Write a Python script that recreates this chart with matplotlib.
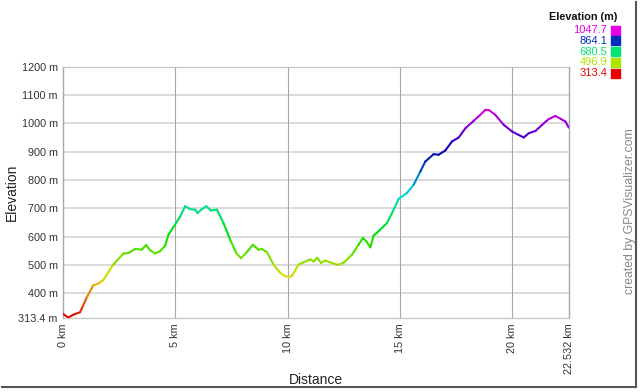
import numpy as np
import matplotlib
matplotlib.use("Agg")
import matplotlib.pyplot as plt
from matplotlib.collections import LineCollection
from matplotlib.lines import Line2D
import colorsys

plt.rcParams['font.family'] = ['Liberation Sans', 'DejaVu Sans']

# Distance (km) and elevation (m) read from the profile
dist = [0.0, 0.22, 0.45, 0.75, 0.87, 1.04, 1.34, 1.56, 1.78, 2.23, 2.68, 2.9, 3.2, 3.5,
        3.69, 3.87, 4.09, 4.31, 4.54, 4.69, 4.98, 5.21, 5.43, 5.65, 5.88, 5.98, 6.18,
        6.37, 6.58, 6.85, 7.14, 7.44, 7.71, 7.92, 8.15, 8.45, 8.7, 8.85, 9.08, 9.37,
        9.67, 9.89, 10.08, 10.19, 10.49, 10.71, 11.01, 11.16, 11.33, 11.49, 11.68,
        11.9, 12.23, 12.49, 12.87, 13.16, 13.36, 13.51, 13.69, 13.83, 14.06, 14.43,
        14.7, 14.95, 15.32, 15.62, 15.92, 16.14, 16.51, 16.73, 17.03, 17.33, 17.63,
        17.93, 18.3, 18.59, 18.82, 18.97, 19.26, 19.63, 20.01, 20.3, 20.53, 20.75,
        21.05, 21.35, 21.64, 21.94, 22.19, 22.39, 22.532]
elev = [326, 314, 324, 333, 354, 384, 428, 434, 446, 501, 540, 542, 556, 554,
        570, 552, 540, 548, 568, 607, 642, 671, 707, 697, 695, 683, 697,
        707, 692, 695, 648, 589, 542, 524, 542, 571, 554, 556, 545, 501,
        472, 460, 458, 460, 501, 509, 519, 512, 525, 507, 515,
        509, 500, 507, 536, 571, 595, 583, 562, 603, 619, 648,
        690, 733, 754, 783, 830, 865, 891, 889, 904, 936, 950,
        983, 1009, 1030, 1047.7, 1047, 1030, 995, 971, 959, 950, 965,
        973, 995, 1015, 1026, 1015, 1006, 985]

legend_vals = [1047.7, 864.1, 680.5, 496.9, 313.4]
y_ticks = [313.4, 400, 500, 600, 700, 800, 900, 1000, 1100, 1200]
x_ticks = [0, 5, 10, 15, 20, 22.532]
x_labels = ["0 km", "5 km", "10 km", "15 km", "20 km", "22.532 km"]

emin, emax = 313.4, 1047.7

def ecolor(e, v=0.88):
    h = (e - emin) / (emax - emin) * (300.0 / 360.0)
    h = min(max(h, 0), 300.0 / 360.0)
    # slightly darker around the blue hues, as in the reference
    vv = v - 0.2 * np.exp(-((h * 360 - 235) / 30.0) ** 2)
    return colorsys.hsv_to_rgb(h, 1.0, vv)

fig = plt.figure(figsize=(6.4, 3.92), dpi=100)
ax = fig.add_axes([63.3 / 640, 1 - 317.7 / 392, (568.7 - 63.3) / 640, (317.7 - 66.7) / 392])

pts = np.column_stack([dist, elev])
segs = np.stack([pts[:-1], pts[1:]], axis=1)
mids = [(elev[i] + elev[i + 1]) / 2 for i in range(len(elev) - 1)]
lc = LineCollection(segs, colors=[ecolor(m) for m in mids], linewidths=1.5,
                    capstyle='round', joinstyle='round', zorder=3)
ax.add_collection(lc)

ax.set_xlim(0, 22.532)
ax.set_ylim(313.4, 1200)

ax.set_yticks(y_ticks)
ax.set_yticklabels([f"{v:g} m" for v in y_ticks], fontsize=7.8, color='#333333')
ax.set_xticks(x_ticks)
ax.set_xticklabels(x_labels, rotation=90, fontsize=7.8, color='#333333', va='top')
ax.tick_params(length=0, pad=4)

for v in y_ticks[1:]:
    ax.axhline(v, color='#d4d4d4', lw=1.2, zorder=1)
for v in x_ticks[1:-1]:
    ax.axvline(v, color='#a8a8a8', lw=0.8, zorder=1)
for s in ax.spines.values():
    s.set_color('#c8c8c8')
    s.set_linewidth(1.0)
ax.spines['left'].set_color('#a8a8a8')
ax.spines['right'].set_color('#a8a8a8')

fig.text(316 / 640, 1 - 380 / 392, "Distance", ha='center', va='center', fontsize=10, color='#222222')
fig.text(12 / 640, 1 - 192 / 392, "Elevation", ha='center', va='center', rotation=90,
         fontsize=10, color='#222222')

# Legend
fig.text(617 / 640, 1 - 16.7 / 392, "Elevation (m)", ha='right', va='center',
         fontsize=7.8, fontweight='bold', color='#111111')
rows_y = [30, 40.8, 51.6, 62.4, 73.2]
for val, yy in zip(legend_vals, rows_y):
    c = ecolor(val, 0.9)
    fig.text(607 / 640, 1 - yy / 392, f"{val:.1f}", ha='right', va='center',
             fontsize=8, color=c)
    fig.patches.append(plt.Rectangle((611 / 640, 1 - (yy + 4.5) / 392), 8.5 / 640, 9 / 392,
                                     transform=fig.transFigure, color=c, figure=fig))

fig.text(630 / 640, 1 - 211 / 392, "created by GPSVisualizer.com", rotation=90,
         ha='center', va='center', fontsize=8.8, color='#888888')

# outer frame shadow
fig.add_artist(Line2D([636 / 640, 636 / 640], [1 - 2 / 392, 1 - 387 / 392],
                      transform=fig.transFigure, color='#555555', lw=1.5))
fig.add_artist(Line2D([2 / 640, 636 / 640], [1 - 387 / 392, 1 - 387 / 392],
                      transform=fig.transFigure, color='#555555', lw=1.5))

fig.savefig("out.png", dpi=100)
